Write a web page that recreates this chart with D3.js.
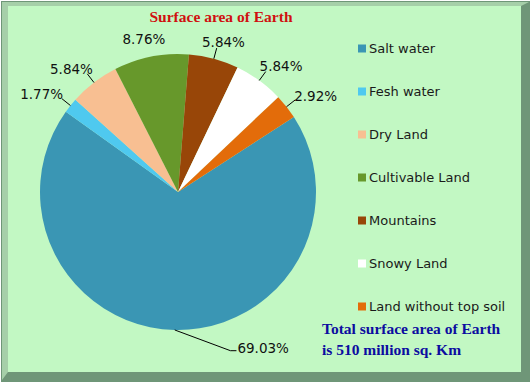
<!DOCTYPE html>
<html><head><meta charset="utf-8">
<script src="https://cdn.jsdelivr.net/npm/d3@7"></script>
<style>html,body{margin:0;padding:0;background:#fff;}svg{display:block;}</style>
</head><body>
<svg id="chart" width="531" height="384"></svg>
<script>
const categories = ["Salt water","Fesh water","Dry Land","Cultivable Land","Mountains","Snowy Land","Land without top soil"];
const values = [69.03, 1.77, 5.84, 8.76, 5.84, 5.84, 2.92];
const labels = ["69.03%","1.77%","5.84%","8.76%","5.84%","5.84%","2.92%"];
const colors = ["#3a96b4","#4fc9ef","#f8bf92","#67982b","#984608","#ffffff","#e36c0a"];
const title = "Surface area of Earth";
const note = ["Total surface area of Earth","is 510 million sq. Km"];

const W = 531, H = 384;
const svg = d3.select("#chart");

// frame with bevel
svg.append("rect").attr("x",0).attr("y",0).attr("width",W).attr("height",H).attr("fill","#ffffff");
svg.append("rect").attr("x",1).attr("y",1).attr("width",W-2).attr("height",H-3).attr("fill","#6f9678");
svg.append("path").attr("d",`M2,2 L529,2 L521,6 L8,6 L8,372 L2,380 Z`).attr("fill","#a6cfa9");
svg.append("rect").attr("x",8).attr("y",6).attr("width",513).attr("height",366).attr("fill","#c2f8c3");

// title
svg.append("text").attr("x",221).attr("y",22).attr("text-anchor","middle")
  .attr("font-family","'Liberation Serif','Times New Roman',serif").attr("font-weight","bold")
  .attr("font-size",15.5).attr("fill","#d01010").text(title);

const cx = 178, cy = 192, r = 138;
const start = 57.1 * Math.PI / 180;
const pie = d3.pie().sort(null).value(d => d).startAngle(start).endAngle(start + 2*Math.PI);
const arcs = pie(values);
const arc = d3.arc().innerRadius(0).outerRadius(r);
const g = svg.append("g").attr("transform",`translate(${cx},${cy})`);
g.selectAll("path.slice").data(arcs).enter().append("path").attr("class","slice")
  .attr("d",arc).attr("fill",(d,i)=>colors[i]);

// labels
const fontLab = "'DejaVu Sans',Verdana,sans-serif";
const d = 14;
arcs.forEach((a,i) => {
  const m = (a.startAngle + a.endAngle)/2;
  const s = Math.sin(m), c = Math.cos(m);
  const ex = r*s, ey = -r*c;
  if (i === 0) {
    // bottom label moved aside with bent leader
    const bx = r*0.38, by = r*1.15;
    g.append("polyline").attr("points",`${ex},${ey} ${bx},${by} ${bx+6},${by}`)
      .attr("fill","none").attr("stroke","#000").attr("stroke-width",1);
    g.append("text").attr("x",bx+7).attr("y",by-2).attr("dy","0.35em")
      .attr("font-family",fontLab).attr("font-size",13.5).attr("fill","#111").text(labels[i]);
    return;
  }
  const ax = (r+d)*s, ay = -(r+d)*c;
  const w = 46, h = 13;
  const tx = ax + s*w/2, ty = ay - c*h/4;
  if (Math.abs(s) > 0.2) {
    const lx = (r+d-3)*s, ly = -(r+d-3)*c;
    g.append("line").attr("x1",ex).attr("y1",ey).attr("x2",lx).attr("y2",ly)
      .attr("stroke","#000").attr("stroke-width",1);
  }
  g.append("text").attr("x",tx).attr("y",ty).attr("dy","0.35em").attr("text-anchor","middle")
    .attr("font-family",fontLab).attr("font-size",13.5).attr("fill","#111").text(labels[i]);
});

// legend
const ly = d3.scalePoint().domain(categories).range([48,306]);
const leg = svg.append("g");
categories.forEach((cat,i) => {
  const y = ly(cat);
  leg.append("rect").attr("x",358).attr("y",y-3.5).attr("width",8).attr("height",8).attr("fill",colors[i]);
  leg.append("text").attr("x",369).attr("y",y).attr("dy","0.35em")
    .attr("font-family",fontLab).attr("font-size",13).attr("fill","#1a1a1a").text(cat);
});

// note
note.forEach((t,i) => {
  svg.append("text").attr("x",322).attr("y",334 + i*21)
    .attr("font-family","'Liberation Serif','Times New Roman',serif").attr("font-weight","bold")
    .attr("font-size",15.5).attr("fill","#0c0ca0").text(t);
});
</script>
</body></html>
